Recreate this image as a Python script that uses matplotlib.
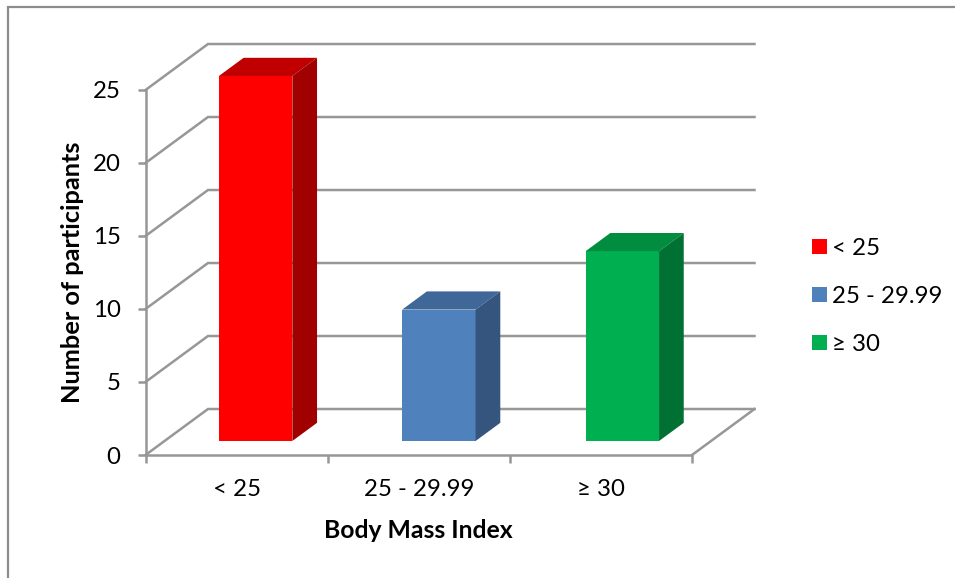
import matplotlib
matplotlib.use("Agg")
import matplotlib.pyplot as plt
from matplotlib.lines import Line2D
from matplotlib.patches import Patch, Polygon

plt.rcParams["font.family"] = ["Lato", "DejaVu Sans"]

# data
categorias = ["< 25", "25 - 29.99", "≥ 30"]
valores = [25, 9, 13]
y_ticks = [0, 5, 10, 15, 20, 25]
cor_frente = ["#FF0000", "#4F81BD", "#00B050"]
cor_topo = ["#C00000", "#3F6797", "#008D40"]
cor_lado = ["#A00000", "#35557F", "#007033"]

CINZA = "#979797"
LARG_BARRA = 0.403
# offset of the back wall, in data units
DX = 0.343
DY = 3.15
D_FRENTE = 0.305
D_FUNDO = 0.70
FONTE = 17.3
FONTE_TITULO = 17.8

# bar centres drift slightly from the tick centres in the original
pos_barras = [0.5, 1.506, 2.513]


def proj(x, y, d):
    return (x + d * DX, y + d * DY)


fig = plt.figure(figsize=(9.55, 5.78), dpi=100)
ax = fig.add_axes([145.5 / 955, 123 / 578, 546.5 / 955, 365 / 578])
ax.set_xlim(0, len(categorias))
ax.set_ylim(0, y_ticks[-1])

# back wall grid and the side wall lines
x_max = len(categorias)
for y in y_ticks:
    a = proj(0, y, 0)
    b = proj(0, y, 1)
    c = proj(x_max, y, 1)
    ax.plot([a[0], b[0], c[0]], [a[1], b[1], c[1]], color=CINZA, lw=1.8,
            clip_on=False, zorder=1, solid_joinstyle="miter")
# floor edge on the right
a = proj(x_max, 0, 0)
b = proj(x_max, 0, 1)
ax.plot([a[0], b[0]], [a[1], b[1]], color=CINZA, lw=1.8, clip_on=False, zorder=1)

# bars
for i, v in enumerate(valores):
    x0 = pos_barras[i] - LARG_BARRA / 2
    x1 = pos_barras[i] + LARG_BARRA / 2
    base = D_FRENTE * DY
    ax.bar(pos_barras[i] + D_FRENTE * DX, v, width=LARG_BARRA, bottom=base,
           color=cor_frente[i], clip_on=False, zorder=3)
    topo = [proj(x0, v, D_FRENTE), proj(x1, v, D_FRENTE),
            proj(x1, v, D_FUNDO), proj(x0, v, D_FUNDO)]
    lado = [proj(x1, 0, D_FRENTE), proj(x1, v, D_FRENTE),
            proj(x1, v, D_FUNDO), proj(x1, 0, D_FUNDO)]
    ax.add_patch(Polygon(topo, closed=True, color=cor_topo[i], lw=0, clip_on=False, zorder=3))
    ax.add_patch(Polygon(lado, closed=True, color=cor_lado[i], lw=0, clip_on=False, zorder=3))

# axes
for lado_ax in ["top", "right"]:
    ax.spines[lado_ax].set_visible(False)
for lado_ax in ["left", "bottom"]:
    ax.spines[lado_ax].set_color(CINZA)
    ax.spines[lado_ax].set_linewidth(1.8)
ax.patch.set_visible(False)

ax.set_yticks(y_ticks)
ax.set_xticks(range(len(categorias) + 1))
ax.set_xticklabels([])
ax.tick_params(axis="both", color=CINZA, width=1.8, length=6, labelsize=FONTE, labelcolor="black")
ax.tick_params(axis="y", pad=12)
ax.set_xticks([i + 0.5 for i in range(len(categorias))], minor=True)
ax.set_xticklabels(categorias, minor=True)
ax.tick_params(axis="x", which="minor", length=0, pad=17, labelsize=FONTE)

ax.set_xlabel("Body Mass Index", fontsize=FONTE_TITULO, fontweight="bold", labelpad=14)
ax.set_ylabel("Number of participants", fontsize=18.3, fontweight="bold", labelpad=6)

# legend
handles = [Patch(facecolor=c, edgecolor="none") for c in cor_frente]
fig.legend(handles, categorias, loc="upper left", bbox_to_anchor=(812 / 955, 1 - 238 / 578),
           frameon=False, fontsize=FONTE, handlelength=0.63, handleheight=0.63,
           handletextpad=0.2, labelspacing=1.12, borderpad=0, borderaxespad=0)

# outer chart frame (only top and left are visible in the crop)
fig.add_artist(Line2D([8 / 955, 8 / 955, 1], [0, 1 - 7 / 578, 1 - 7 / 578],
                      color="#8C8C8C", lw=1.6, solid_joinstyle="miter"))

fig.savefig("out.png", dpi=100)
